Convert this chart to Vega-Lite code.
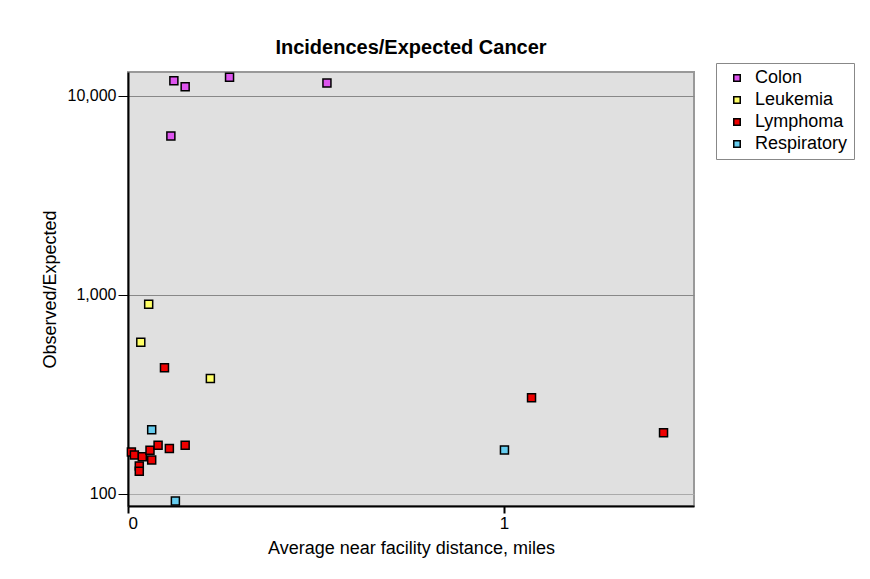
{
  "$schema": "https://vega.github.io/schema/vega-lite/v6.json",
  "autosize": {"type": "none"},
  "width": 566,
  "height": 434,
  "padding": {"left": 128, "top": 72, "right": 176, "bottom": 73},
  "background": "white",
  "title": {"text": "Incidences/Expected Cancer", "fontSize": 20, "fontWeight": "bold", "font": "Liberation Sans", "anchor": "middle", "offset": 5, "color": "black"},
  "config": {
    "font": "Liberation Sans",
    "view": {"fill": "#e0e0e0", "stroke": "#999999", "strokeWidth": 2}
  },
  "data": {"values": [
    {"type": "Colon", "distance": 0.122, "ratio": 11940},
    {"type": "Colon", "distance": 0.152, "ratio": 11135},
    {"type": "Colon", "distance": 0.270, "ratio": 12410},
    {"type": "Colon", "distance": 0.114, "ratio": 6295},
    {"type": "Colon", "distance": 0.529, "ratio": 11620},
    {"type": "Leukemia", "distance": 0.055, "ratio": 898},
    {"type": "Leukemia", "distance": 0.034, "ratio": 578},
    {"type": "Leukemia", "distance": 0.219, "ratio": 380},
    {"type": "Lymphoma", "distance": 0.097, "ratio": 431},
    {"type": "Lymphoma", "distance": 0.009, "ratio": 162.6},
    {"type": "Lymphoma", "distance": 0.017, "ratio": 157},
    {"type": "Lymphoma", "distance": 0.038, "ratio": 154},
    {"type": "Lymphoma", "distance": 0.0585, "ratio": 165.8},
    {"type": "Lymphoma", "distance": 0.080, "ratio": 175.7},
    {"type": "Lymphoma", "distance": 0.110, "ratio": 169},
    {"type": "Lymphoma", "distance": 0.152, "ratio": 175.7},
    {"type": "Lymphoma", "distance": 0.063, "ratio": 148.2},
    {"type": "Lymphoma", "distance": 0.030, "ratio": 138.3},
    {"type": "Lymphoma", "distance": 0.030, "ratio": 130},
    {"type": "Lymphoma", "distance": 1.073, "ratio": 304.8},
    {"type": "Lymphoma", "distance": 1.424, "ratio": 203.3},
    {"type": "Respiratory", "distance": 0.063, "ratio": 210.5},
    {"type": "Respiratory", "distance": 0.126, "ratio": 92.2},
    {"type": "Respiratory", "distance": 1.001, "ratio": 166.4}
  ]},
  "mark": {"type": "point", "shape": "square", "filled": true, "size": 64, "stroke": "black", "strokeWidth": 1.5, "opacity": 1},
  "encoding": {
    "x": {"field": "distance", "type": "quantitative", "scale": {"domain": [0, 1.505], "nice": false, "zero": false},
      "axis": {"values": [0, 1], "grid": false, "title": "Average near facility distance, miles", "titleFontSize": 18, "titleFontWeight": "normal", "titleColor": "black", "titlePadding": 8, "labelFontSize": 17, "labelColor": "black", "labelPadding": 2, "domainColor": "black", "domainWidth": 2, "tickColor": "black", "tickWidth": 2, "tickSize": 7, "format": "d"}},
    "y": {"field": "ratio", "type": "quantitative", "scale": {"type": "log", "domain": [87, 13200], "nice": false},
      "axis": {"values": [100, 1000, 10000], "format": ",.0f", "grid": true, "gridColor": {"condition": {"test": "datum.value == 100", "value": "#aaaaaa"}, "value": "#888888"}, "gridWidth": 1, "title": "Observed/Expected", "titleFontSize": 18, "titleFontWeight": "normal", "titleColor": "black", "titlePadding": 8, "labelFontSize": 16, "labelColor": "black", "labelPadding": 2, "domainColor": "black", "domainWidth": 2, "tickColor": "black", "tickWidth": 1, "tickSize": 10}},
    "color": {"field": "type", "type": "nominal",
      "scale": {"domain": ["Colon", "Leukemia", "Lymphoma", "Respiratory"], "range": ["#dd55ee", "#ffff66", "#ee0000", "#66ccee"]},
      "legend": {"title": null, "orient": "none", "legendX": 588, "legendY": -9, "symbolType": "square", "symbolSize": 42, "symbolStrokeColor": "black", "symbolStrokeWidth": 1.5, "symbolOpacity": 1, "symbolOffset": 6, "labelFontSize": 18, "labelColor": "black", "rowPadding": 4, "strokeColor": "#888888", "padding": 6, "labelOffset": 9, "fillColor": "white"}}
  }
}
